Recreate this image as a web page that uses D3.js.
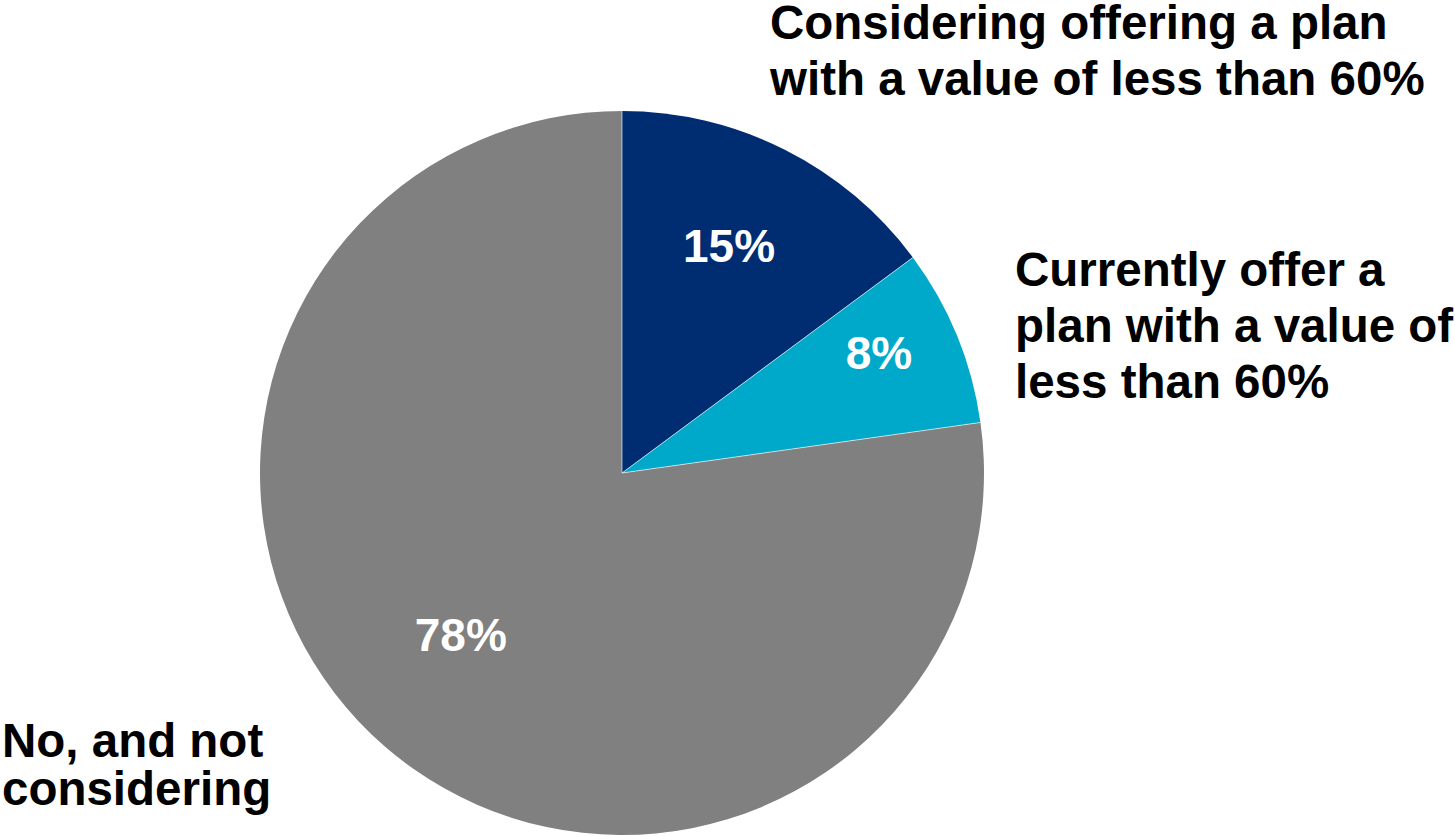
<!DOCTYPE html>
<html>
<head>
<meta charset="utf-8">
<script src="https://cdn.jsdelivr.net/npm/d3@7"></script>
<style>
  html, body { margin: 0; padding: 0; background: #ffffff; }
  svg { display: block; }
  text { font-family: "Liberation Sans", Arial, sans-serif; font-weight: bold; }
</style>
</head>
<body>
<svg id="chart" width="1455" height="836"></svg>
<script>
// Survey responses, clockwise from 12 o'clock
const categories = [
  "Considering offering a plan with a value of less than 60%",
  "Currently offer a plan with a value of less than 60%",
  "No, and not considering"
];
const values = [15, 8, 78];
const valueLabels = ["15%", "8%", "78%"];
const categoryLines = [
  ["Considering offering a plan", "with a value of less than 60%"],
  ["Currently offer a", "plan with a value of", "less than 60%"],
  ["No, and not", "considering"]
];
const colors = ["#002d72", "#00a9c9", "#808080"];

const W = 1455, H = 836;
const cx = 622, cy = 473, R = 362;

// Layout for the labels (in-slice percentage labels and outside category labels)
const pctLayout = [
  { r: 252, da: -1.6 },
  { r: 284, da: -2.9 },
  { r: 228, da: 4.0 }
];
const catLayout = [
  { x: 770, y: 39, lh: 56 },
  { x: 1015, y: 286, lh: 56 },
  { x: 2, y: 757, lh: 48 }
];

const svg = d3.select("#chart");
const g = svg.append("g").attr("transform", `translate(${cx},${cy})`);

const pie = d3.pie().sort(null).value(d => d.value);
const arcs = pie(values.map((v, i) => ({ value: v, i })));
const arc = d3.arc().innerRadius(0).outerRadius(R);

g.selectAll("path.slice")
  .data(arcs)
  .join("path")
  .attr("class", "slice")
  .attr("d", arc)
  .attr("fill", d => colors[d.data.i]);

// Separator lines between slices
g.selectAll("line.sep")
  .data(arcs)
  .join("line")
  .attr("class", "sep")
  .attr("x1", 0).attr("y1", 0)
  .attr("x2", d => R * Math.sin(d.startAngle))
  .attr("y2", d => -R * Math.cos(d.startAngle))
  .attr("stroke", "#ffffff")
  .attr("stroke-width", 1)
  .attr("stroke-opacity", 0.6);

// Percentage labels inside slices
g.selectAll("text.pct")
  .data(arcs)
  .join("text")
  .attr("class", "pct")
  .attr("text-anchor", "middle")
  .attr("dominant-baseline", "central")
  .attr("fill", "#ffffff")
  .attr("font-size", 46)
  .attr("transform", d => {
    const L = pctLayout[d.data.i];
    const a = (d.startAngle + d.endAngle) / 2 + L.da * Math.PI / 180;
    return `translate(${L.r * Math.sin(a)},${-L.r * Math.cos(a) + 1})`;
  })
  .text(d => valueLabels[d.data.i]);

// Category labels outside the pie
const cat = svg.selectAll("text.cat")
  .data(categories)
  .join("text")
  .attr("class", "cat")
  .attr("fill", "#000000")
  .attr("font-size", 47.5)
  .attr("x", (d, i) => catLayout[i].x)
  .attr("y", (d, i) => catLayout[i].y);

cat.selectAll("tspan")
  .data((d, i) => categoryLines[i].map(t => ({ t, i })))
  .join("tspan")
  .attr("x", d => catLayout[d.i].x)
  .attr("dy", (d, j) => j === 0 ? 0 : catLayout[d.i].lh)
  .text(d => d.t);
</script>
</body>
</html>
